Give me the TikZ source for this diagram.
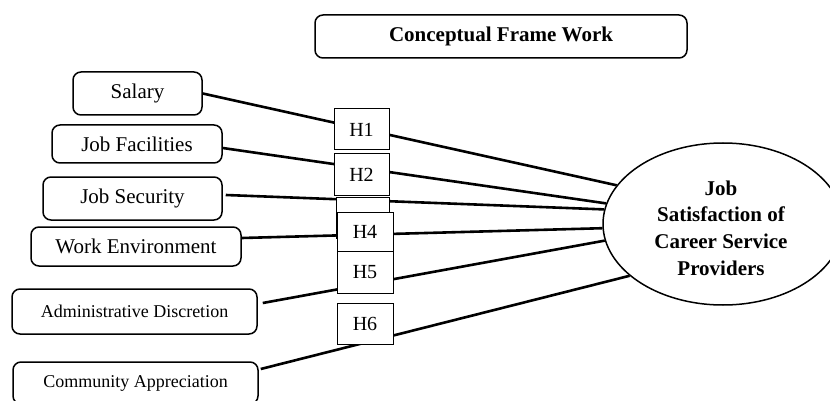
\documentclass[tikz,border=0pt]{standalone}
\usepackage{fontspec}
\setmainfont{Liberation Serif}
\usetikzlibrary{shapes.geometric,calc}
\begin{document}
\begin{tikzpicture}[x=1pt,y=-1pt,
  varbox/.style={draw, line width=1.5pt, rounded corners=8pt, fill=white, inner sep=0pt,
    font=\fontsize{21}{24}\selectfont},
  smallvar/.style={varbox, font=\fontsize{18}{22}\selectfont},
  hbox/.style={draw, line width=1pt, fill=white, inner sep=0pt, minimum width=55pt, minimum height=41pt,
    font=\fontsize{20}{24}\selectfont},
  link/.style={line width=2.6pt},
  outcome/.style={draw, ellipse, line width=1.5pt, inner sep=0pt, minimum width=240pt, minimum height=162pt},
  outtext/.style={align=center, inner sep=0pt, font=\fontsize{21}{26.6}\selectfont\bfseries}
]
\useasboundingbox (0,0) rectangle (830,401);
\clip (0,0) rectangle (830,401);

% title
\node[varbox, minimum width=372pt, minimum height=43pt, font=\fontsize{21}{24}\selectfont\bfseries]
  (title) at (501,36.5) {Conceptual Frame Work};

% independent variables
\node[varbox, minimum width=129pt, minimum height=43pt] (sal) at (137.5,93.5) {Salary};
\node[varbox, minimum width=170pt, minimum height=38pt] (fac) at (137,144) {Job Facilities};
\node[varbox, minimum width=179pt, minimum height=43pt] (sec) at (132.5,198.5) {Job Security};
\node[varbox, minimum width=210pt, minimum height=39pt] (env) at (136,246.5) {Work Environment};
\node[smallvar, minimum width=245pt, minimum height=45pt] (adm) at (134.5,311.5) {Administrative Discretion};
\node[smallvar, minimum width=245pt, minimum height=42pt] (com) at (135.5,383) {Community Appreciation};

% dependent variable
\node[outcome] (js) at (723,224) {};
\node[outtext] (jstext) at (721,228) {Job\\Satisfaction of\\Career Service\\Providers};

% connectors
\draw[link] (sal.east) -- (js.160.1);
\draw[link] ($(fac.east)+(0,4)$) -- (js.170.5);
\draw[link] ($(sec.east)+(3,-3.5)$) -- (js.173);
\draw[link] ($(env.east)+(0,-8.5)$) -- (js.182.3);
\draw[link] ($(adm.east)+(5,-8.5)$) -- (js.188.7);
\draw[link] ($(com.east)+(2,-14)$) -- (js.209.4);

% hypotheses
\node[hbox] (h1) at (361.5,129.5) {H1};
\node[hbox] (h2) at (361.5,174.5) {H2};
\node[hbox, minimum width=53pt] (h3) at (362.5,217.5) {};
\node[hbox, minimum width=56pt, minimum height=39pt] (h4) at (365,231.5) {H4};
\node[hbox, minimum width=56pt, minimum height=42pt] (h5) at (365,272) {H5};
\node[hbox, minimum width=56pt] (h6) at (365,323.5) {H6};
\end{tikzpicture}
\end{document}
